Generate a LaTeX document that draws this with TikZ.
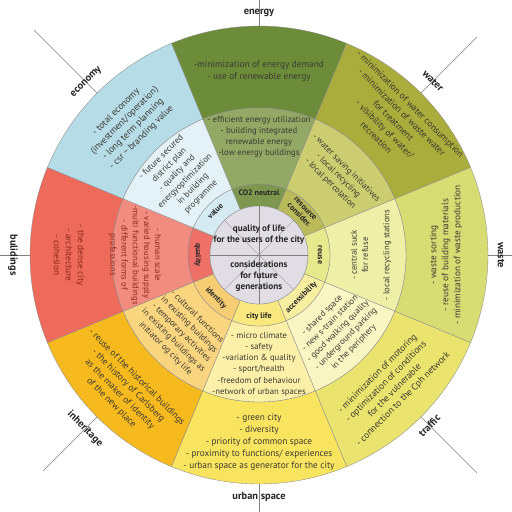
\documentclass[tikz,border=0pt]{standalone}
\usepackage{fontspec}
\setmainfont{PT Sans}
\definecolor{enO}{RGB}{108,140,58}
\definecolor{enM}{RGB}{146,168,100}
\definecolor{enI}{RGB}{125,152,78}
\definecolor{waO}{RGB}{170,172,60}
\definecolor{waM}{RGB}{204,204,112}
\definecolor{waI}{RGB}{186,186,90}
\definecolor{wsO}{RGB}{216,221,115}
\definecolor{wsM}{RGB}{238,240,168}
\definecolor{wsI}{RGB}{230,233,140}
\definecolor{trO}{RGB}{234,228,110}
\definecolor{trM}{RGB}{250,246,196}
\definecolor{trI}{RGB}{247,238,160}
\definecolor{urO}{RGB}{249,228,96}
\definecolor{urM}{RGB}{252,240,168}
\definecolor{urI}{RGB}{249,232,125}
\definecolor{inO}{RGB}{247,186,30}
\definecolor{inM}{RGB}{250,213,128}
\definecolor{inI}{RGB}{247,205,115}
\definecolor{buO}{RGB}{238,106,90}
\definecolor{buM}{RGB}{243,140,128}
\definecolor{buI}{RGB}{238,112,102}
\definecolor{ecO}{RGB}{182,220,232}
\definecolor{ecM}{RGB}{228,242,247}
\definecolor{ecI}{RGB}{213,234,242}
\definecolor{coreC}{RGB}{224,222,228}
\definecolor{txtc}{RGB}{60,58,50}
\definecolor{redtxt}{RGB}{140,40,30}
\tikzset{
  secline/.style={draw=black!45, line width=0.35pt},
  body/.style={align=center, inner sep=0pt, text=txtc, font=\fontsize{9.3}{12}\selectfont},
  midtxt/.style={align=center, inner sep=0pt, text=txtc, font=\fontsize{8.7}{11.2}\selectfont},
  ringlbl/.style={align=center, inner sep=0pt, text=black!85, font=\fontsize{8}{8.8}\selectfont\bfseries},
  topic/.style={inner sep=0pt, text=black!85, font=\fontsize{10.4}{12}\selectfont\bfseries},
  spoke/.style={draw=black!50, line width=0.4pt},
  core/.style={align=center, inner sep=0pt, text=black!85, font=\fontsize{9.2}{11}\selectfont\bfseries},
}
\newcommand\ringsec[5]{\filldraw[fill=#1,secline] (#2:#4) arc[start angle=#2,end angle=#3,radius=#4] -- (#3:#5) arc[start angle=#3,end angle=#2,radius=#5] -- cycle;}
\begin{document}
\begin{tikzpicture}[x=1pt,y=1pt]
\useasboundingbox (-259,-257) rectangle (253,255);
\clip (-259,-257) rectangle (253,255);
\fill[white] (-259,-257) rectangle (253,255);
% outer spokes
\foreach \a/\r in {90/270,45/308,0/270,-45/308,-90/270,-135/305,180/270,135/318}
  \draw[spoke] (\a:229) -- (\a:\r);
% sectors
\foreach \c/\o/\m/\i in {90/enO/enM/enI,45/waO/waM/waI,0/wsO/wsM/wsI,-45/trO/trM/trI,-90/urO/urM/urI,-135/inO/inM/inI,180/buO/buM/buI,135/ecO/ecM/ecI}{
  \pgfmathsetmacro\aa{\c-22.5}
  \pgfmathsetmacro\ab{\c+22.5}
  \ringsec{\o}{\aa}{\ab}{147}{229}
  \ringsec{\m}{\aa}{\ab}{71}{147}
  \ringsec{\i}{\aa}{\ab}{49}{71}
}
% core
\filldraw[fill=coreC, secline] (0,0) circle[radius=49];
\foreach \a in {0,45,...,315}
  \draw[spoke, line width=0.3pt] (0,0) -- (\a:49);
\node[core] (q1) at (0,20) {quality of life\\for the users of the city};
\node[core] (q2) at (0,-21) {considerations\\for future\\generations};
% topic labels
\node[topic] (tEn) at (90:242) {energy};
\node[topic, rotate=-45] (tWa) at (45:246) {water};
\node[topic, rotate=-90] (tWs) at (0:242) {waste};
\node[topic, rotate=45] (tTr) at (-45:241) {traffic};
\node[topic] (tUr) at (-90:242) {urban space};
\node[topic, rotate=-45] (tIn) at (-135:246) {inheritage};
\node[topic, rotate=-90] (tBu) at (180:246) {bulidings};
\node[topic, rotate=45] (tEc) at (135:244) {economy};
% inner ring labels
\node[ringlbl] (iEn) at (90:62) {CO2 neutral};
\node[ringlbl, rotate=-45] (iWa) at (45:61) {resource\\consider.};
\node[ringlbl, rotate=-90] (iWs) at (0:61) {reuse};
\node[ringlbl, rotate=45] (iTr) at (-45:60) {accessibility};
\node[ringlbl] (iUr) at (-90:61) {city life};
\node[ringlbl, rotate=-45] (iIn) at (-135:61) {identity};
\node[ringlbl, rotate=-90] (iBu) at (180:61) {quality};
\node[ringlbl, rotate=45] (iEc) at (135:62) {value};
% outer ring texts
\node[body] (oEn) at (90:184) {-minimization of energy demand\\- use of renewable energy};
\node[body, rotate=-45] (oWa) at (45:190) {- minimization of water consumption\\- minimization of waste water\\for treatment\\- visibility of water/\\recreation};
\node[body, rotate=90] (oWs) at (0:187) {- waste sorting\\- reuse of building materials\\- minimization of waste production};
\node[body, rotate=45] (oTr) at (-45:186) {- minimization of motoring\\- optimization of conditions\\for the vulnerable\\- connection to the Cph network};
\node[body] (oUr) at (-90:187) {- green city\\- diversity\\- priority of common space\\- proximity to functions/ experiences\\- urban space as generator for the city};
\node[body, rotate=-45] (oIn) at (-135:191) {- reuse of the historical buildings\\- the history of Carlsberg\\as the maker of identity\\of the new place};
\node[body, rotate=-90, text=redtxt] (oBu) at (180:190) {- the dense city\\- architecture\\- cohesion};
\node[body, rotate=45] (oEc) at (135:184) {- total economy\\(investment/operation)\\- long term planning\\- csr \textasciitilde{} branding value};
% middle ring texts
\node[midtxt] (mEn) at (90:118) {- efficient energy utilization\\- building integrated\\renewable energy\\-low energy buildings};
\node[midtxt, rotate=-45] (mWa) at (45:112) {- water saving initiatives\\- local recycling\\- local percolation};
\node[midtxt, rotate=90] (mWs) at (0:112) {- central suck\\for refuse\\[10pt]- local recycling stations};
\node[midtxt, rotate=45] (mTr) at (-44:110) {- shared space\\- new s-train station\\- good walking quality\\- underground parking\\in the periphery};
\node[midtxt] (mUr) at (-90:109) {- micro climate\\- safety\\-variation \& quality\\- sport/health\\-freedom of behaviour\\-network of urban spaces};
\node[midtxt, rotate=-45] (mIn) at (-135:110) {- cultural functions\\in existing buildings\\- temporary activities\\in existing buildings as\\initiator og city life};
\node[midtxt, rotate=-90, text=redtxt] (mBu) at (180:124) {- human scale\\- varied housing supply\\-multi functional buildings\\- different forms of\\professions};
\node[midtxt, rotate=45] (mEc) at (135:110) {- future secured\\district plan\\- quality and\\energyoptimization\\in building\\programme};
\end{tikzpicture}
\end{document}
